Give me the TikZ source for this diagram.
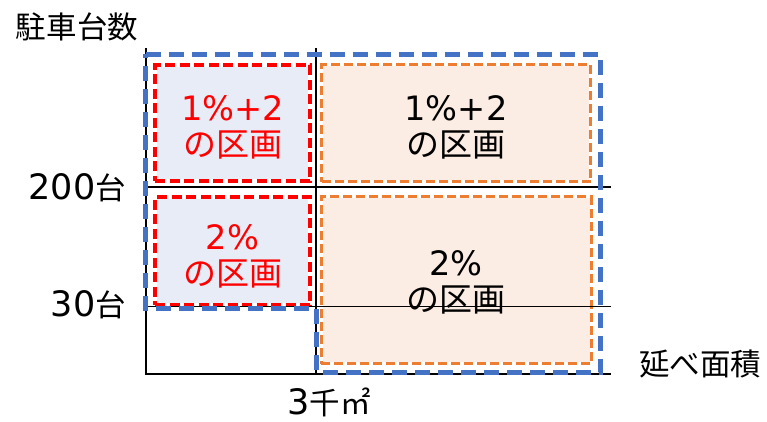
\documentclass[tikz,border=0pt]{standalone}
\usepackage{fontspec}
\setmainfont{Noto Sans CJK JP}
\newfontfamily\latn{DejaVu Sans}
\newcommand{\boxnum}[1]{{\latn\fontsize{33.6}{36}\selectfont #1}}
\newcommand{\labnum}[1]{{\latn\fontsize{35}{36}\selectfont #1}}
\definecolor{myblue}{HTML}{4472C4}
\definecolor{myorange}{HTML}{ED7D31}
\definecolor{myred}{HTML}{FF0000}
\definecolor{fillblue}{HTML}{E7ECF6}
\definecolor{fillorange}{HTML}{FCEDE4}
\tikzset{
  gridline/.style={draw=black, line width=1.2pt},
  redbox/.style={rectangle, inner sep=0pt, outer sep=0pt,
    preaction={fill=fillblue, draw=white, solid, line width=4pt},
    draw=myred, line width=4pt, dash pattern=on 10pt off 4.5pt},
  orangebox/.style={rectangle, inner sep=0pt, outer sep=0pt,
    preaction={fill=fillorange, draw=white, solid, line width=3pt},
    draw=myorange, line width=3pt, dash pattern=on 9pt off 4pt},
  blueline/.style={draw=myblue, line width=5pt, dash pattern=on 15pt off 8pt},
  boxtext/.style={align=center, inner sep=0pt, font=\fontsize{33}{36}\selectfont},
  axlabel/.style={inner sep=0pt, font=\fontsize{30.5}{36}\selectfont},
}
\begin{document}
\begin{tikzpicture}[x=1pt,y=-1pt]
\useasboundingbox (0,0) rectangle (767,421);
% boxes
\node[redbox, minimum width=155pt, minimum height=116pt] (r1) at (232.5,123) {};
\node[redbox, minimum width=155pt, minimum height=108pt] (r2) at (232.5,251) {};
\node[orangebox, minimum width=269pt, minimum height=117pt] (o1) at (456,123) {};
\node[orangebox, minimum width=270pt, minimum height=167pt] (o2) at (456,280) {};
% grid
\coordinate (a0) at (146,48);
\coordinate (b0) at (316,48);
\coordinate (a1) at (146,374);
\coordinate (b1) at (316,374);
\coordinate (h1l) at (146,187);
\coordinate (h1r) at (611,187);
\coordinate (h2l) at (146,306.5);
\coordinate (h2r) at (611,306.5);
\coordinate (xr) at (611,374);
\draw[gridline] (a0) -- (a1) -- (xr);
\draw[gridline] (b0) -- (b1);
\draw[gridline] (h1l) -- (h1r);
\draw[gridline] (h2l) -- (h2r);
% blue outline
\draw[blueline] (145.5,54) -- (600,54) -- (600,372) -- (316.7,372) -- (316.7,308.8) -- (145.5,308.8) -- cycle;
% texts
\node[boxtext, text=myred] (t1) at (232.5,127) {\boxnum{1\%+2}\\の区画};
\node[boxtext, text=myred] (t2) at (232.5,256) {\boxnum{2\%}\\の区画};
\node[boxtext] (t3) at (456,127) {\boxnum{1\%+2}\\の区画};
\node[boxtext] (t4) at (456,282) {\boxnum{2\%}\\の区画};
\node[axlabel, anchor=base] (yl) at (77,38) {駐車台数};
\node[axlabel, anchor=base east] (l200) at (126,199) {\labnum{200}台};
\node[axlabel, anchor=base east] (l30) at (126,316) {\labnum{30}台};
\node[axlabel, anchor=base] (xl) at (700,375) {延べ面積};
\node[axlabel, anchor=base] (l3k) at (329,414) {\labnum{3}千㎡};
\end{tikzpicture}
\end{document}
